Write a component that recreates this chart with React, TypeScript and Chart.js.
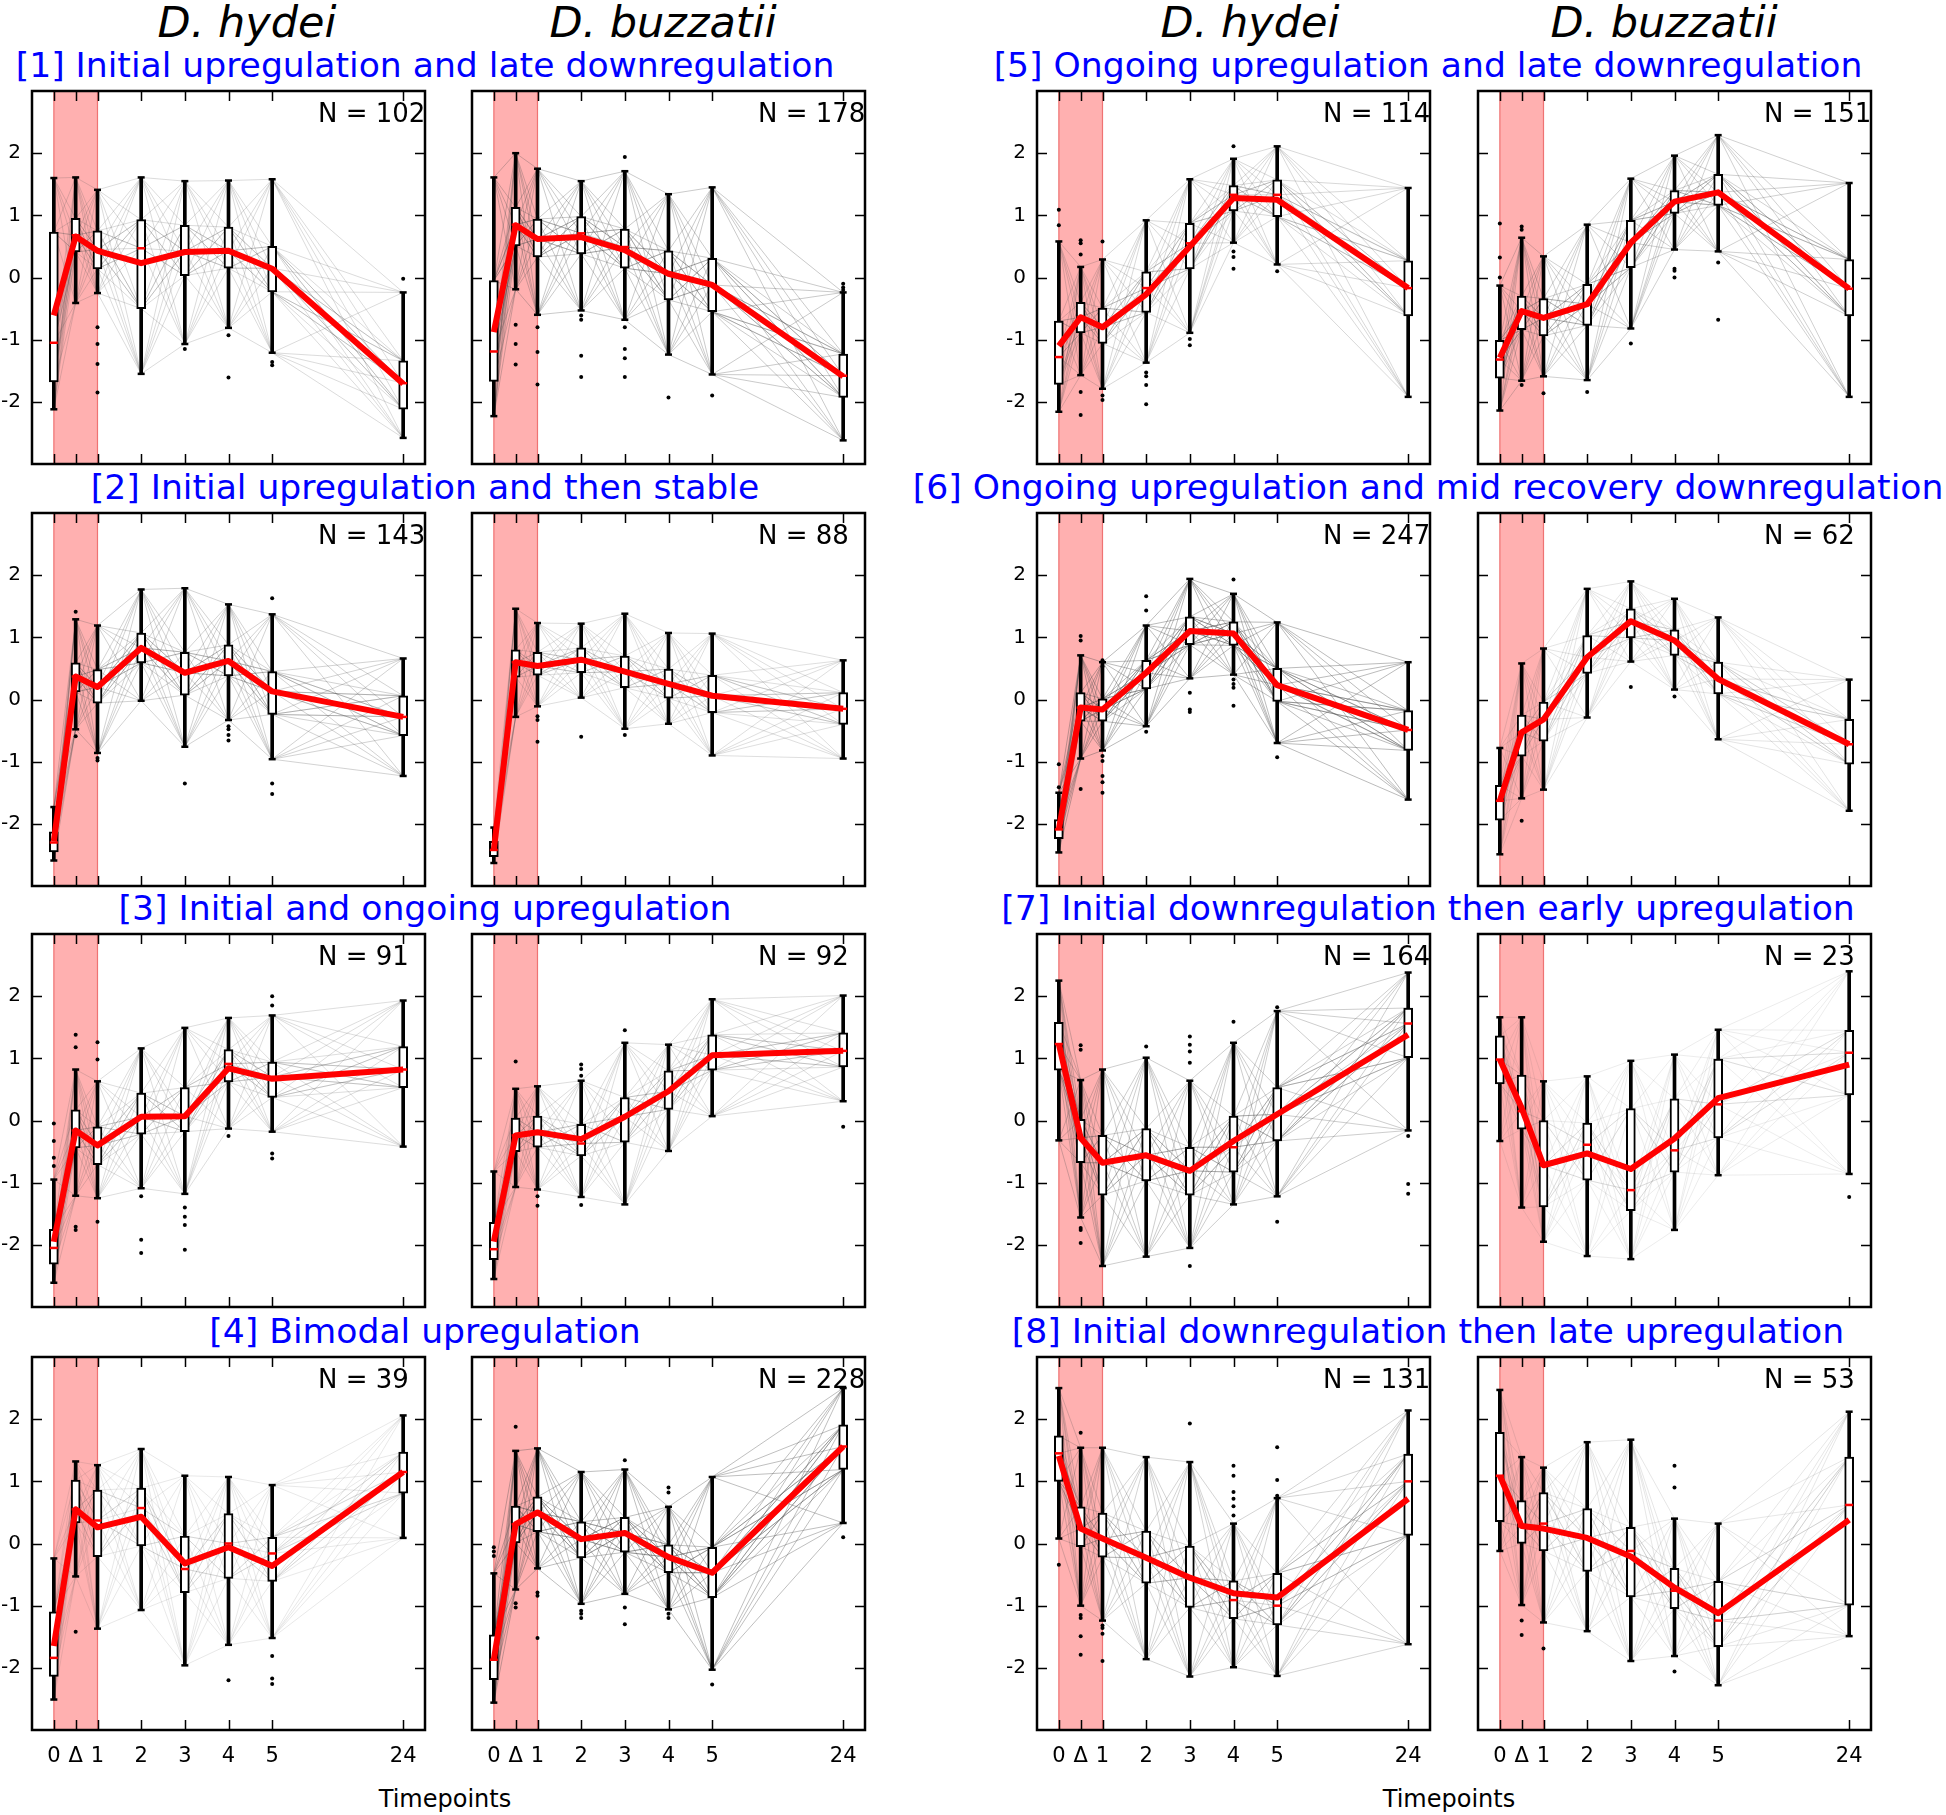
import React, { useEffect, useRef } from 'react';
import { Chart, registerables } from 'chart.js';

Chart.register(...registerables);

// ---------- data ----------
const speciesNames = ['D. hydei', 'D. buzzatii'];
const clusterTitles = [
  '[1] Initial upregulation and late downregulation',
  '[2] Initial upregulation and then stable',
  '[3] Initial and ongoing upregulation',
  '[4] Bimodal upregulation',
  '[5] Ongoing upregulation and late downregulation',
  '[6] Ongoing upregulation and mid recovery downregulation',
  '[7] Initial downregulation then early upregulation',
  '[8] Initial downregulation then late upregulation',
];
const timepointLabels = ['0', 'Δ', '1', '2', '3', '4', '5', '24'];
const timepointPositions = [0, 0.5, 1, 2, 3, 4, 5, 8];
const yTickValues = [-2, -1, 0, 1, 2];
const stressWindow = [0, 1];
const xAxisTitle = 'Timepoints';

// panels: cluster1 hydei, cluster1 buzzatii, cluster2 hydei, ...
const geneCounts = [102, 178, 143, 88, 91, 92, 39, 228, 114, 151, 247, 62, 164, 23, 131, 53];

const whiskerHigh = [
  [1.60, 1.61, 1.41, 1.61, 1.55, 1.56, 1.58, -0.24],
  [1.61, 2.00, 1.75, 1.55, 1.71, 1.34, 1.45, -0.24],
  [-1.73, 1.29, 1.19, 1.77, 1.79, 1.53, 1.37, 0.66],
  [-2.06, 1.46, 1.23, 1.22, 1.38, 1.07, 1.06, 0.63],
  [-0.95, 0.82, 0.63, 1.16, 1.49, 1.65, 1.69, 1.93],
  [-0.82, 0.51, 0.55, 0.64, 1.25, 1.22, 1.95, 2.01],
  [-0.24, 1.32, 1.26, 1.52, 1.09, 1.07, 0.94, 2.06],
  [-0.48, 1.49, 1.53, 1.15, 1.19, 0.59, 1.07, 2.50],
  [0.58, 0.17, 0.29, 0.92, 1.58, 1.91, 2.11, 1.44],
  [-0.13, 0.64, 0.34, 0.85, 1.59, 1.96, 2.29, 1.52],
  [-1.50, 0.71, 0.60, 1.19, 1.94, 1.70, 1.24, 0.60],
  [-0.78, 0.58, 0.82, 1.78, 1.90, 1.62, 1.32, 0.32],
  [2.25, 0.65, 0.82, 1.01, 0.64, 1.25, 1.76, 2.38],
  [1.66, 1.66, 0.63, 0.71, 0.96, 1.06, 1.46, 2.40],
  [2.50, 1.54, 1.54, 1.39, 1.31, 0.32, 0.73, 2.14],
  [2.47, 1.39, 1.22, 1.63, 1.67, 0.40, 0.32, 2.12],
];
const boxHigh = [
  [0.73, 0.95, 0.75, 0.93, 0.84, 0.81, 0.50, -1.34],
  [-0.05, 1.13, 0.94, 0.98, 0.78, 0.43, 0.31, -1.23],
  [-2.13, 0.59, 0.48, 1.07, 0.76, 0.88, 0.45, 0.06],
  [-2.28, 0.80, 0.76, 0.83, 0.70, 0.49, 0.39, 0.11],
  [-1.75, 0.17, -0.10, 0.44, 0.53, 1.14, 0.94, 1.19],
  [-1.64, 0.04, 0.07, -0.06, 0.37, 0.80, 1.38, 1.41],
  [-1.10, 1.02, 0.86, 0.89, 0.12, 0.48, 0.10, 1.47],
  [-1.47, 0.60, 0.75, 0.35, 0.42, -0.02, -0.06, 1.91],
  [-0.70, -0.40, -0.49, 0.09, 0.87, 1.48, 1.57, 0.27],
  [-1.01, -0.30, -0.34, -0.11, 0.92, 1.40, 1.66, 0.29],
  [-1.93, 0.11, 0.01, 0.63, 1.33, 1.25, 0.50, -0.18],
  [-1.38, -0.25, -0.04, 1.03, 1.46, 1.12, 0.60, -0.32],
  [1.58, 0.02, -0.24, -0.13, -0.43, 0.07, 0.53, 1.81],
  [1.36, 0.73, 0.00, -0.04, 0.19, 0.35, 0.99, 1.45],
  [1.73, 0.59, 0.49, 0.20, -0.04, -0.60, -0.48, 1.44],
  [1.79, 0.69, 0.82, 0.56, 0.26, -0.40, -0.61, 1.39],
];
const medianValues = [
  [-1.05, 0.68, 0.45, 0.47, 0.42, 0.43, 0.15, -1.70],
  [-1.19, 0.85, 0.62, 0.71, 0.49, 0.06, -0.12, -1.58],
  [-2.30, 0.37, 0.20, 0.83, 0.43, 0.62, 0.13, -0.28],
  [-2.42, 0.60, 0.54, 0.64, 0.45, 0.25, 0.06, -0.15],
  [-2.05, -0.16, -0.40, 0.06, 0.07, 0.91, 0.70, 0.82],
  [-2.07, -0.24, -0.19, -0.37, 0.06, 0.47, 1.05, 1.12],
  [-1.84, 0.55, 0.37, 0.57, -0.41, 0.00, -0.16, 1.15],
  [-1.87, 0.31, 0.50, 0.07, 0.17, -0.22, -0.47, 1.56],
  [-1.28, -0.64, -0.80, -0.17, 0.55, 1.33, 1.33, -0.17],
  [-1.32, -0.54, -0.65, -0.43, 0.56, 1.22, 1.37, -0.18],
  [-2.09, -0.13, -0.16, 0.43, 1.10, 1.06, 0.23, -0.49],
  [-1.63, -0.53, -0.32, 0.68, 1.26, 0.95, 0.33, -0.72],
  [1.23, -0.28, -0.68, -0.56, -0.81, -0.43, 0.10, 1.56],
  [0.98, 0.15, -0.72, -0.39, -1.12, -0.48, 0.26, 1.09],
  [1.45, 0.24, 0.08, -0.23, -0.55, -0.91, -1.00, 1.00],
  [1.09, 0.28, 0.32, 0.09, -0.12, -0.76, -1.24, 0.62],
];
const boxLow = [
  [-1.68, 0.41, 0.14, -0.50, 0.03, 0.15, -0.23, -2.12],
  [-1.67, 0.51, 0.33, 0.38, 0.15, -0.36, -0.55, -1.93],
  [-2.45, 0.12, -0.06, 0.59, 0.07, 0.38, -0.24, -0.58],
  [-2.53, 0.36, 0.39, 0.43, 0.19, 0.02, -0.21, -0.40],
  [-2.31, -0.44, -0.71, -0.22, -0.18, 0.62, 0.37, 0.53],
  [-2.24, -0.50, -0.43, -0.57, -0.35, 0.18, 0.81, 0.86],
  [-2.14, 0.33, -0.21, -0.04, -0.79, -0.56, -0.61, 0.81],
  [-2.19, 0.01, 0.19, -0.23, -0.14, -0.47, -0.87, 1.19],
  [-1.72, -0.89, -1.06, -0.56, 0.14, 1.07, 0.98, -0.62],
  [-1.62, -0.84, -0.94, -0.77, 0.16, 1.03, 1.16, -0.62],
  [-2.24, -0.35, -0.35, 0.17, 0.88, 0.87, -0.03, -0.82],
  [-1.94, -0.91, -0.67, 0.42, 0.99, 0.71, 0.09, -1.04],
  [0.81, -0.68, -1.20, -0.97, -1.20, -0.83, -0.33, 1.01],
  [0.59, -0.14, -1.39, -0.96, -1.45, -0.83, -0.28, 0.41],
  [1.00, -0.05, -0.22, -0.64, -1.03, -1.21, -1.31, 0.13],
  [0.35, 0.00, -0.12, -0.45, -0.86, -1.05, -1.66, -0.99],
];
const whiskerLow = [
  [-2.12, -0.41, -0.25, -1.55, -1.07, -0.81, -1.21, -2.58],
  [-2.23, -0.19, -0.60, -0.53, -0.68, -1.24, -1.56, -2.62],
  [-2.59, -0.48, -0.86, -0.02, -0.76, -0.33, -0.96, -1.23],
  [-2.63, -0.28, -0.11, 0.03, -0.47, -0.39, -0.90, -0.95],
  [-2.61, -1.21, -1.25, -1.09, -1.18, -0.13, -0.18, -0.42],
  [-2.55, -1.07, -1.11, -1.23, -1.35, -0.49, 0.07, 0.31],
  [-2.51, -0.53, -1.37, -1.07, -1.96, -1.63, -1.52, 0.09],
  [-2.56, -0.74, -0.40, -0.97, -0.81, -1.06, -2.03, 0.33],
  [-2.16, -1.57, -1.79, -1.37, -0.89, 0.56, 0.21, -1.92],
  [-2.14, -1.66, -1.59, -1.65, -0.82, 0.45, 0.42, -1.92],
  [-2.46, -0.95, -0.82, -0.43, 0.34, 0.40, -0.70, -1.61],
  [-2.49, -1.59, -1.45, -0.29, 0.61, 0.16, -0.64, -1.79],
  [-0.32, -1.56, -2.34, -2.19, -2.05, -1.35, -1.22, -0.16],
  [-0.33, -1.40, -1.95, -2.18, -2.23, -1.76, -0.88, -0.86],
  [0.08, -1.00, -1.24, -1.86, -2.14, -1.99, -2.13, -1.62],
  [-0.12, -0.99, -1.27, -1.41, -1.89, -1.81, -2.28, -1.49],
];
const meanProfile = [
  [-0.61, 0.66, 0.43, 0.23, 0.41, 0.43, 0.14, -1.71],
  [-0.88, 0.84, 0.62, 0.65, 0.44, 0.06, -0.12, -1.59],
  [-2.28, 0.37, 0.20, 0.83, 0.43, 0.62, 0.13, -0.28],
  [-2.42, 0.60, 0.54, 0.64, 0.45, 0.25, 0.06, -0.15],
  [-1.95, -0.16, -0.40, 0.06, 0.07, 0.84, 0.67, 0.82],
  [-1.95, -0.24, -0.19, -0.30, 0.06, 0.47, 1.05, 1.12],
  [-1.65, 0.55, 0.26, 0.43, -0.32, -0.06, -0.36, 1.15],
  [-1.87, 0.31, 0.50, 0.07, 0.17, -0.22, -0.47, 1.56],
  [-1.10, -0.64, -0.80, -0.27, 0.50, 1.28, 1.25, -0.17],
  [-1.29, -0.54, -0.65, -0.43, 0.56, 1.22, 1.37, -0.18],
  [-2.09, -0.13, -0.16, 0.43, 1.10, 1.06, 0.23, -0.49],
  [-1.63, -0.53, -0.32, 0.68, 1.26, 0.95, 0.33, -0.72],
  [1.23, -0.28, -0.68, -0.56, -0.81, -0.33, 0.10, 1.38],
  [0.98, 0.20, -0.72, -0.53, -0.78, -0.29, 0.36, 0.90],
  [1.41, 0.24, 0.08, -0.23, -0.55, -0.80, -0.87, 0.72],
  [1.09, 0.28, 0.24, 0.09, -0.21, -0.71, -1.12, 0.38],
];
const outlierValues = [
  [[], [], [-0.80, -1.07, -1.39, -1.85], [], [-1.15], [-0.93, -1.61], [-1.36, -1.41], [-0.02]],
  [[], [-0.76, -1.07, -1.40], [-0.80, -1.20, -1.72], [-0.61, -0.68, -1.26, -1.60], [1.94, -0.80, -1.15, -1.30, -1.60], [-1.93], [-1.90], [-0.10, -0.16, -0.20]],
  [[], [1.41, -0.59], [-0.94, -0.98], [], [-1.35], [-0.43, -0.48, -0.57, -0.66], [1.63, -1.35, -1.52], []],
  [[], [], [-0.27, -0.33, -0.68], [-0.60], [-0.57], [], [], []],
  [[-0.05, -0.33, -0.60, -0.73], [1.38, 1.18, -1.71, -1.76], [1.26, 0.98, -1.63], [-1.22, -1.92, -2.13], [-1.40, -1.55, -1.68, -2.08], [-0.25], [2.00, 1.85, -0.53, -0.61], []],
  [[], [0.95], [-1.22, -1.37], [0.90, 0.83, 0.72, -1.36], [1.45], [], [], [-0.10]],
  [[], [-1.42], [], [], [], [-2.20], [-1.81, -2.17, -2.26], []],
  [[-0.06, -0.13, -0.20], [1.88, -0.96, -1.03], [-0.79, -0.84, -1.52], [-1.08, -1.13, -1.20], [1.34, -1.03, -1.30], [0.90, 0.82, -1.13, -1.20], [-2.27], [0.10]],
  [[1.09, 0.84], [0.60, 0.55, 0.37, -1.84, -2.21], [0.58, -1.90, -1.97], [-1.53, -1.59, -1.73, -2.04], [-0.99, -1.09], [2.11, 0.42, 0.33, 0.14], [0.10], []],
  [[0.87, 0.32, 0.00], [0.82, 0.77, -1.73], [-1.86], [-1.84], [-1.06], [0.14, 0.11, 0.00], [0.24, -0.68], []],
  [[-1.04, -1.41], [1.02, 0.95, -1.44], [0.63, 0.53, -0.91, -0.99, -1.23, -1.33, -1.50], [1.66, 1.43, -0.52], [0.11, -0.16, -0.20], [1.93, 0.32, 0.25, 0.19, -0.10], [-0.93], []],
  [[], [-1.95], [], [], [0.20], [0.05], [], []],
  [[], [1.21, 1.14, -1.73, -1.76, -1.97], [], [1.19], [1.35, 1.22, 1.11, 0.93, -2.34], [1.59], [1.82, -1.63], [-0.25, -1.02, -1.18]],
  [[], [], [], [], [], [], [], [-1.23]],
  [[-0.34], [1.78, -1.15, -1.20, -1.49, -1.79], [-1.32, -1.36, -1.45, -1.89], [], [1.93], [1.25, 1.09, 0.83, 0.72, 0.60, 0.45], [1.55, 1.02, 0.77], []],
  [[], [-1.24, -1.47], [-1.69], [], [], [1.25, 0.90, -2.06], [], []],
];

// ---------- layout ----------
const COL_LEFT = [32, 472, 1037, 1478];
const ROW_TOP = [91, 513, 934, 1357];
const PW = 393;
const PH = 373;
const Y_AXIS_W = 50;
const X_AXIS_H = 50;
const FONT = '"DejaVu Sans", sans-serif';

Chart.defaults.font.family = FONT;

function makeDecorPlugin(n: number) {
  return {
    id: 'panelDecor',
    beforeDatasetsDraw(chart: any) {
      const { ctx, chartArea: a, scales } = chart;
      const x0 = scales.x.getPixelForValue(stressWindow[0]);
      const x1 = scales.x.getPixelForValue(stressWindow[1]);
      ctx.save();
      ctx.fillStyle = 'rgba(255, 80, 80, 0.45)';
      ctx.fillRect(x0, a.top, x1 - x0, a.bottom - a.top);
      ctx.strokeStyle = 'rgba(235, 90, 90, 0.8)';
      ctx.lineWidth = 1.2;
      ctx.beginPath();
      ctx.moveTo(x0, a.top); ctx.lineTo(x0, a.bottom);
      ctx.moveTo(x1, a.top); ctx.lineTo(x1, a.bottom);
      ctx.stroke();
      ctx.restore();
    },
    afterDatasetsDraw(chart: any) {
      const { ctx, chartArea: a, scales } = chart;
      ctx.save();
      ctx.strokeStyle = '#000';
      ctx.lineWidth = 1.5;
      ctx.beginPath();
      for (const t of scales.x.ticks) {
        const px = Math.round(scales.x.getPixelForValue(t.value)) + 0.5;
        ctx.moveTo(px, a.top); ctx.lineTo(px, a.top + 10);
        ctx.moveTo(px, a.bottom); ctx.lineTo(px, a.bottom - 10);
      }
      for (const t of scales.y.ticks) {
        const py = Math.round(scales.y.getPixelForValue(t.value)) + 0.5;
        ctx.moveTo(a.left, py); ctx.lineTo(a.left + 10, py);
        ctx.moveTo(a.right, py); ctx.lineTo(a.right - 10, py);
      }
      ctx.stroke();
      ctx.lineWidth = 2.5;
      ctx.strokeRect(a.left, a.top, a.right - a.left, a.bottom - a.top);
      ctx.fillStyle = '#000';
      ctx.font = '26px ' + FONT;
      ctx.textAlign = 'left';
      ctx.textBaseline = 'alphabetic';
      ctx.fillText('N = ' + n, a.left + 286, a.top + 31);
      ctx.restore();
    },
  };
}

function Panel({ p }: { p: number }) {
  const ref = useRef<HTMLCanvasElement>(null);
  const cluster = Math.floor(p / 2);
  const sp = p % 2;
  const col = (cluster < 4 ? 0 : 2) + sp;
  const row = cluster % 4;

  useEffect(() => {
    const showY = sp === 0;
    const showX = row === 3;
    const pts = (arr: number[]) => timepointPositions.map((x, t) => ({ x, y: arr[t] }));

    // faint background profiles threaded through the read quantiles
    const stats = [whiskerLow[p], boxLow[p], medianValues[p], boxHigh[p], whiskerHigh[p]];
    const inner = [boxLow[p], medianValues[p], boxHigh[p]];
    const alpha = Math.min(0.4, 0.08 + geneCounts[p] / 800);
    const grayColor = `rgba(80,80,80,${alpha.toFixed(3)})`;
    const grayLines: any[] = [];
    for (let s = 0; s < 5; s++) {
      for (const d of [0, 1, -1, 2, -2]) {
        grayLines.push(timepointPositions.map((x, t) => ({ x, y: stats[(((s + d * t) % 5) + 5) % 5][t] })));
      }
    }
    for (let s = 0; s < 3; s++) {
      for (const d of [1, -1]) {
        grayLines.push(timepointPositions.map((x, t) => ({ x, y: inner[(((s + d * t) % 3) + 3) % 3][t] })));
      }
    }

    const datasets: any[] = grayLines.map((data) => ({
      type: 'line',
      data,
      borderColor: grayColor,
      borderWidth: 1,
      pointRadius: 0,
      tension: 0,
      order: 10,
    }));

    datasets.push({
      type: 'bar',
      data: timepointPositions.map((x, t) => ({ x, y: [whiskerLow[p][t], whiskerHigh[p][t]] })),
      backgroundColor: '#000',
      borderWidth: 0,
      barThickness: 3,
      grouped: false,
      order: 8,
    });
    datasets.push({
      type: 'scatter',
      data: [...pts(whiskerLow[p]), ...pts(whiskerHigh[p])],
      pointStyle: 'line',
      pointRadius: 3.5,
      borderWidth: 2.5,
      borderColor: '#000',
      order: 7,
    });
    datasets.push({
      type: 'bar',
      data: timepointPositions.map((x, t) => ({ x, y: [boxLow[p][t], boxHigh[p][t]] })),
      backgroundColor: '#fff',
      borderColor: '#000',
      borderWidth: 2,
      borderSkipped: false,
      barThickness: 9,
      grouped: false,
      order: 6,
    });
    datasets.push({
      type: 'scatter',
      data: pts(medianValues[p]),
      pointStyle: 'line',
      pointRadius: 4,
      borderWidth: 2.5,
      borderColor: '#ff0000',
      order: 5,
    });
    const outs: any[] = [];
    outlierValues[p].forEach((vals, t) => vals.forEach((v) => outs.push({ x: timepointPositions[t], y: v })));
    datasets.push({
      type: 'scatter',
      data: outs,
      pointStyle: 'circle',
      pointRadius: 2,
      backgroundColor: '#000',
      borderColor: '#000',
      borderWidth: 0,
      order: 4,
    });
    datasets.push({
      type: 'line',
      data: pts(meanProfile[p]),
      borderColor: '#ff0000',
      borderWidth: 6,
      pointRadius: 0,
      tension: 0,
      borderJoinStyle: 'round',
      order: 1,
    });

    const chart = new Chart(ref.current as HTMLCanvasElement, {
      type: 'line',
      data: { datasets },
      options: {
        animation: false,
        responsive: false,
        devicePixelRatio: 1,
        events: [],
        layout: { padding: { left: 0, top: 10, right: 10, bottom: 0 }, autoPadding: false },
        plugins: { legend: { display: false }, tooltip: { enabled: false } },
        scales: {
          x: {
            type: 'linear',
            bounds: 'data',
            offset: false,
            min: -0.5,
            max: 8.5,
            grid: { display: false, drawTicks: false, offset: false },
            border: { display: false },
            afterBuildTicks: (s: any) => {
              s.ticks = timepointPositions.map((v) => ({ value: v }));
            },
            afterFit: (s: any) => {
              s.height = X_AXIS_H;
              s.paddingLeft = 0;
              s.paddingRight = 0;
            },
            ticks: {
              display: showX,
              autoSkip: false,
              maxRotation: 0,
              minRotation: 0,
              padding: 14,
              color: '#000',
              font: { size: 21, family: FONT },
              callback: (_v: any, i: number) => timepointLabels[i],
            },
          },
          y: {
            type: 'linear',
            bounds: 'data',
            offset: false,
            min: -3,
            max: 3,
            grid: { display: false, drawTicks: false },
            border: { display: false },
            afterBuildTicks: (s: any) => {
              s.ticks = yTickValues.map((v) => ({ value: v }));
            },
            afterFit: (s: any) => {
              s.width = Y_AXIS_W;
              s.paddingTop = 0;
              s.paddingBottom = 0;
            },
            ticks: {
              display: showY,
              autoSkip: false,
              padding: 11,
              color: '#000',
              font: { size: 20, family: FONT },
              callback: (v: any) => String(v),
            },
          },
        },
      } as any,
      plugins: [makeDecorPlugin(geneCounts[p])],
    } as any);
    return () => chart.destroy();
  }, [p]);

  const w = PW + Y_AXIS_W + 10;
  const h = PH + 10 + X_AXIS_H;
  return (
    <canvas
      ref={ref}
      width={w}
      height={h}
      style={{ position: 'absolute', left: COL_LEFT[col] - Y_AXIS_W, top: ROW_TOP[row] - 10, width: w, height: h }}
    />
  );
}

function TextAt({ cx, baseline, size, text, style }: any) {
  return (
    <div
      style={{
        position: 'absolute',
        left: cx - 700,
        width: 1400,
        top: baseline - 0.846 * size,
        textAlign: 'center',
        fontSize: size,
        lineHeight: `${size}px`,
        whiteSpace: 'nowrap',
        fontFamily: FONT,
        ...style,
      }}
    >
      {text}
    </div>
  );
}

const HEADING_CX = [247, 663, 1250, 1664];
const TITLE_CX = [425, 1428];
const XLABEL_CX = [445, 1449];

export default function App() {
  const panels = Array.from({ length: 16 }, (_, i) => i);
  return (
    <div style={{ position: 'absolute', left: 0, top: 0, width: 1946, height: 1815, background: '#fff', overflow: 'hidden' }}>
      {HEADING_CX.map((cx, i) => (
        <TextAt key={'h' + i} cx={cx} baseline={37} size={43} text={speciesNames[i % 2]} style={{ fontStyle: 'italic', color: '#000' }} />
      ))}
      {clusterTitles.map((t, c) => (
        <TextAt key={'t' + c} cx={TITLE_CX[c < 4 ? 0 : 1]} baseline={ROW_TOP[c % 4] - 14} size={34.6} text={t} style={{ color: '#0000ff' }} />
      ))}
      {XLABEL_CX.map((cx, i) => (
        <TextAt key={'x' + i} cx={cx} baseline={1807} size={24} text={xAxisTitle} style={{ color: '#000' }} />
      ))}
      {panels.map((p) => (
        <Panel key={p} p={p} />
      ))}
    </div>
  );
}
